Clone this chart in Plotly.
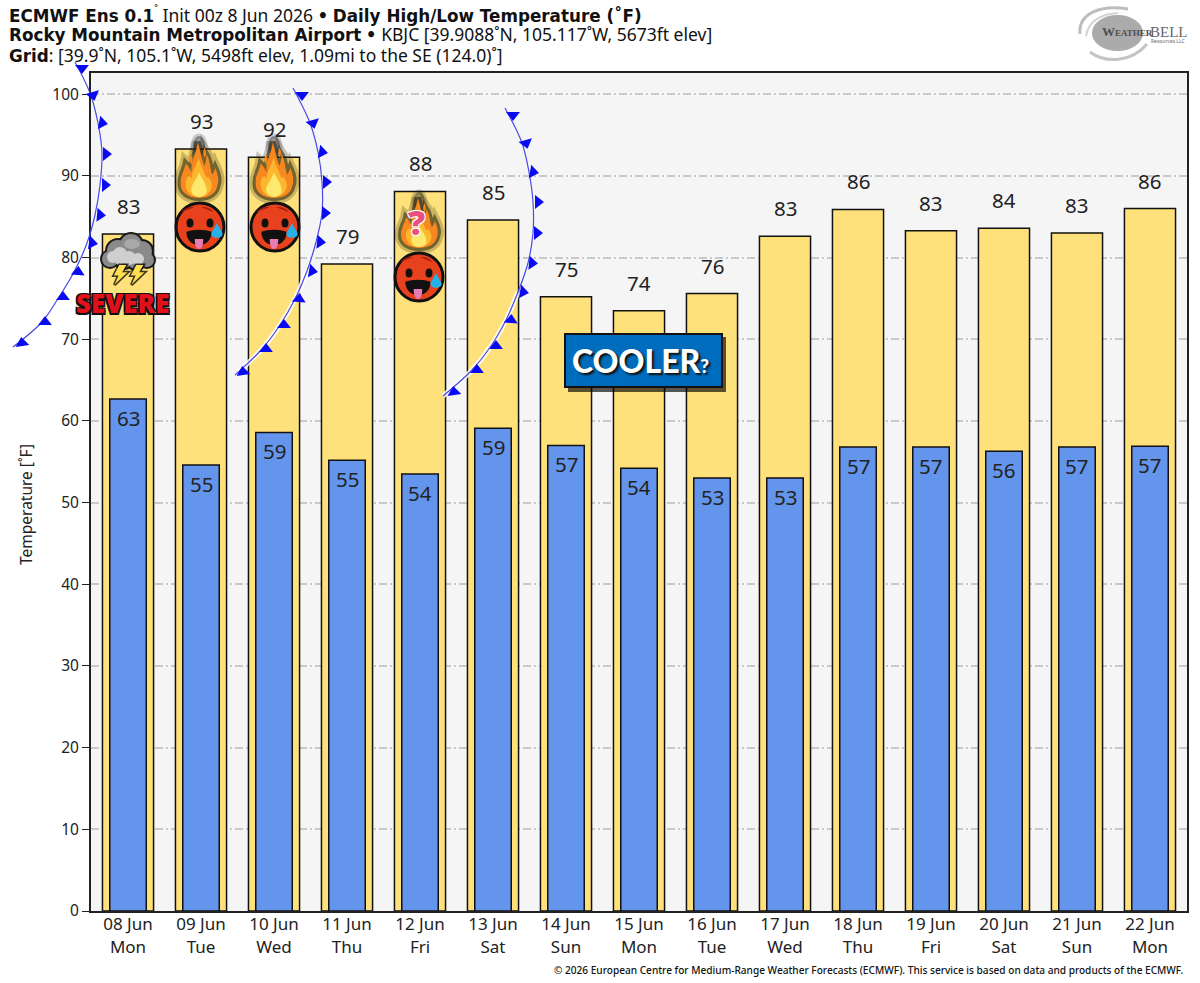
"""ECMWF ensemble daily high/low bars for KBJC, with the hand-drawn forecaster markup on top."""
import plotly.graph_objects as go

DAYS = ["08 Jun", "09 Jun", "10 Jun", "11 Jun", "12 Jun", "13 Jun", "14 Jun", "15 Jun",
        "16 Jun", "17 Jun", "18 Jun", "19 Jun", "20 Jun", "21 Jun", "22 Jun"]
WEEKDAYS = ["Mon", "Tue", "Wed", "Thu", "Fri", "Sat", "Sun", "Mon",
            "Tue", "Wed", "Thu", "Fri", "Sat", "Sun", "Mon"]
HIGHS = [82.9, 93.3, 92.3, 79.2, 88.1, 84.6, 75.2, 73.5, 75.6, 82.6, 85.9, 83.3, 83.6, 83.0, 86.0]
LOWS = [62.7, 54.6, 58.6, 55.2, 53.5, 59.1, 57.0, 54.2, 53.0, 53.0, 56.8, 56.8, 56.3, 56.8, 56.9]
Y_TICKS = [0, 10, 20, 30, 40, 50, 60, 70, 80, 90, 100]

# forecaster markup in page pixels (drawn on a hidden full-page subplot)
FRONT_1_LINE = [(75, 62), (90, 93), (98, 123), (102, 153), (100, 185), (95, 215), (87, 243),
                (74, 272), (59, 297), (42, 322), (13, 347)]
FRONT_1_TEETH = [(82, 68), (93, 95), (102, 123), (106, 154), (105, 185), (100, 215), (92, 243),
                 (78, 272), (63, 297), (45, 322), (22, 343)]
FRONT_2_LINE = [(293, 88), (310, 123), (318, 152), (322, 182), (322, 213), (316, 242), (307, 271),
                (295, 299), (280, 325), (262, 349), (235, 375)]
FRONT_2_TEETH = [(302, 95), (313, 123), (322, 152), (326, 182), (325, 213), (320, 242), (312, 271),
                 (299, 299), (284, 325), (266, 349), (243, 372)]
FRONT_3_LINE = [(505, 108), (522, 143), (529, 172), (533, 202), (533, 233), (528, 263), (518, 292),
                (506, 320), (491, 346), (472, 370), (443, 396)]
FRONT_3_TEETH = [(513, 115), (526, 143), (533, 172), (538, 202), (537, 233), (532, 263), (523, 292),
                 (511, 320), (496, 346), (477, 370), (454, 392)]
TEETH_ANGLES = [180, 165, 100, 90, 90, 95, 100, 5, 0, 0, -8]

FONT = "Noto Sans"
BOLD = "<span style='font-family:DejaVu Sans;font-weight:bold;font-size:16.8px'>{}</span>"
INK = "#222222"
YELLOW, BLUE, BG = "#ffe17b", "#6495ed", "#f5f5f5"
W, H = 1200, 983
L, R, T, B = 91, 1187, 73, 911
X_MIN, X_MAX, Y_MAX = -0.507, 14.507, 102.6


def px(x):
    return X_MIN + (x - L) / (R - L) * (X_MAX - X_MIN)


def py(y):
    return (B - y) / (B - T) * Y_MAX


def path(cmds, cx, cy, w, h):
    """cmds are (letter, [(u, v), ...]) with u across, v up, scaled to w/h around cx, cy (pixels)."""
    out = []
    for c, pts in cmds:
        xy = [f"{px(cx + u * w):.4f},{py(cy - v * h):.3f}" for u, v in pts]
        out.append(" ".join("L" + p for p in xy) if c == "L" else c + " ".join(xy))
    return " ".join(out) + " Z"


FLAME = [("M", [(0, 0)]),
         ("C", [(-.3, 0), (-.52, .1), (-.5, .28)]),
         ("C", [(-.5, .42), (-.4, .48), (-.36, .62)]),
         ("C", [(-.3, .58), (-.24, .52), (-.2, .46)]),
         ("C", [(-.24, .66), (-.1, .72), (-.03, 1.0)]),
         ("C", [(.03, .86), (.06, .74), (.14, .58)]),
         ("C", [(.18, .62), (.2, .7), (.2, .78)]),
         ("C", [(.32, .66), (.3, .5), (.36, .42)]),
         ("C", [(.4, .46), (.42, .5), (.44, .54)]),
         ("C", [(.54, .4), (.54, .28), (.5, .22)]),
         ("C", [(.46, .08), (.28, 0), (0, 0)])]
FLAME_MID = [("M", [(0, .02)]),
             ("C", [(-.26, .02), (-.38, .14), (-.36, .28)]),
             ("C", [(-.34, .4), (-.24, .42), (-.2, .34)]),
             ("C", [(-.2, .5), (-.06, .56), (-.02, .72)]),
             ("C", [(.04, .6), (.16, .44), (.2, .36)]),
             ("C", [(.26, .4), (.3, .34), (.32, .3)]),
             ("C", [(.4, .2), (.3, .02), (0, .02)])]
FLAME_CORE = [("M", [(0, .02)]),
              ("C", [(-.18, .02), (-.24, .12), (-.2, .2)]),
              ("C", [(-.14, .3), (-.04, .36), (0, .46)]),
              ("C", [(.06, .36), (.16, .3), (.2, .18)]),
              ("C", [(.24, .08), (.14, .02), (0, .02)])]
TIP_1 = [("M", [(-.22, .78)]), ("C", [(-.28, .7), (-.26, .64), (-.2, .6)]), ("C", [(-.16, .66), (-.16, .72), (-.22, .78)])]
TIP_2 = [("M", [(.15, .9)]), ("C", [(.1, .82), (.1, .76), (.16, .72)]), ("C", [(.2, .78), (.2, .84), (.15, .9)])]
DROP = [("M", [(0, 1)]), ("C", [(-.2, .6), (-.55, .4), (-.45, .2)]),
        ("C", [(-.35, -.05), (.35, -.05), (.45, .2)]), ("C", [(.55, .4), (.2, .6), (0, 1)])]
BOLT = [("M", [(.1, 1)]), ("L", [(.7, 1), (.35, .6), (.8, .6), (-.3, -.1), (.05, .42), (-.35, .42)])]


def shp(d, fill, line="rgba(0,0,0,0)", width=0):
    return dict(type="path", path=d, fillcolor=fill, line=dict(color=line, width=width),
                xref="x", yref="y", layer="above")


def disc(cx, cy, rx, ry, fill, line="rgba(0,0,0,0)", width=0):
    return dict(type="circle", x0=px(cx - rx), x1=px(cx + rx), y0=py(cy + ry), y1=py(cy - ry),
                fillcolor=fill, line=dict(color=line, width=width), xref="x", yref="y", layer="above")


def flame(cx, base, w, h, smoke=True):
    d = path(FLAME, cx, base, w, h)
    out = [shp(d, "rgba(50,45,15,.3)", "rgba(50,45,15,.25)", 12), shp(d, "rgba(40,35,10,.35)", "rgba(40,35,10,.55)", 6)]
    if smoke:
        out.append(disc(cx, base - h + 4, 6, 10, "rgba(30,30,30,.4)", "rgba(30,30,30,.2)", 5))
    out += [shp(d, "#f5881f"), shp(path(TIP_1, cx, base, w, h), "#f5881f"), shp(path(TIP_2, cx, base, w, h), "#f5881f")]
    out += [shp(path(FLAME_MID, cx, base, w, h), "#fdb62f"), shp(path(FLAME_CORE, cx, base, w, h), "#fde96e")]
    return out


def face(cx, cy):
    mouth = [("M", [(-.62, .12)]), ("C", [(-.3, .26), (.3, .26), (.62, .12)]),
             ("C", [(.62, -.8), (-.62, -.8), (-.62, .12)])]
    tongue = [("M", [(-.32, 0)]), ("L", [(.32, 0)]), ("C", [(.36, -.9), (-.36, -.9), (-.32, 0)])]
    brow_l = [("M", [(-.78, .62)]), ("C", [(-.6, .82), (-.4, .86), (-.24, .82)]),
              ("C", [(-.42, .74), (-.6, .68), (-.78, .62)])]
    brow_r = [("M", [(.58, .62)]), ("C", [(.42, .82), (.2, .86), (.06, .82)]),
              ("C", [(.22, .74), (.4, .68), (.58, .62)])]
    r = 24
    return [disc(cx, cy, r, r, "#e8411d", "#111111", 3),
            shp(path(brow_l, cx, cy, r, r), "#a8200f"), shp(path(brow_r, cx, cy, r, r), "#a8200f"),
            disc(cx - 10, cy - 4, 3.5, 4.5, "#111111"), disc(cx + 10, cy - 4, 3.5, 4.5, "#111111"),
            shp(path(mouth, cx - 1, cy + 7, r * .85, r * .8), "#111111"),
            shp(path(tongue, cx - 1, cy + 12, r * .55, r * .62), "#e77bb3"),
            shp(path(DROP, cx + 17, cy + 11, 12, 15), "#27b1e8")]


def cloud(cx, cy):
    lumps = [(-18, 6, 8), (-10, -2, 11), (3, -8, 11), (14, -2, 10), (19, 7, 7), (-4, 6, 9), (8, 7, 9)]
    out = []
    for dx, dy, r in lumps:
        out.append(disc(cx + dx, cy + dy, r + 2, r + 2, "#1a1a1a"))
    for dx, dy, r in lumps:
        out.append(disc(cx + dx, cy + dy, r, r, "#8a8a8a"))
    for dx, dy, r in [(-15, 4, 6), (-8, 1, 7), (1, 5, 7), (10, 6, 6), (-8, 7, 5)]:
        out.append(disc(cx + dx, cy + dy, r, r, "#cfcfcf"))
    out.append(disc(cx + 4, cy - 9, 8, 5, "#a8a8a8"))
    for bx in (-10, 7):
        d = path(BOLT, cx + bx, cy + 30, 12, 18)
        out += [shp(d, "#3a3410", "rgba(0,0,0,.75)", 3), shp(d, "#ffdf4f")]
    return out


def pgx(x):
    return x / W


def pgy(y):
    return 1 - y / H


def logo():
    swirls = [([(1080, 34), (1078, 14), (1100, 4), (1128, 9)], "#bdbdbd", 3),
              ([(1090, 52), (1106, 64), (1132, 62), (1147, 44)], "#c4c4c4", 3),
              ([(1086, 36), (1088, 22), (1100, 14), (1118, 13)], "#d4d4d4", 2)]
    out = [dict(type="circle", x0=pgx(1092), x1=pgx(1143), y0=pgy(51), y1=pgy(15), fillcolor="#ababab",
                line=dict(width=0), xref="paper", yref="paper", layer="above")]
    for pts, color, width in swirls:
        xy = [f"{pgx(a):.5f},{pgy(b):.5f}" for a, b in pts]
        d = f"M{xy[0]} C{xy[1]} {xy[2]} {xy[3]}"
        out.append(dict(type="path", path=d, line=dict(color=color, width=width),
                        xref="paper", yref="paper", layer="above"))
    return out


def page_note(x, y, text, size, color=INK, anchor="center", family=FONT, angle=0, **font_extra):
    return dict(x=pgx(x), y=pgy(y), xref="paper", yref="paper", text=text, showarrow=False, xanchor=anchor,
                yanchor="middle", textangle=angle, font=dict(family=family, size=size, color=color, **font_extra))


fig = go.Figure()
fig.add_bar(x=list(range(15)), y=HIGHS, width=0.7, marker=dict(color=YELLOW, line=dict(color="#111111", width=1.5)))
fig.add_bar(x=list(range(15)), y=LOWS, width=0.5, marker=dict(color=BLUE, line=dict(color="#111111", width=1.5)))

for line, teeth, glow in [(FRONT_1_LINE, FRONT_1_TEETH, False), (FRONT_2_LINE, FRONT_2_TEETH, True),
                          (FRONT_3_LINE, FRONT_3_TEETH, True)]:
    lx = [p[0] for p in line]
    ly = [p[1] for p in line]
    if glow:
        fig.add_scatter(x=lx[6:], y=ly[6:], mode="lines", xaxis="x2", yaxis="y2",
                        line=dict(color="rgba(255,255,255,.85)", width=5, shape="spline"))
    fig.add_scatter(x=lx, y=ly, mode="lines", xaxis="x2", yaxis="y2",
                    line=dict(color="#4a4ae8", width=1.2, shape="spline"))
    fig.add_scatter(x=[p[0] for p in teeth], y=[p[1] for p in teeth], mode="markers", xaxis="x2", yaxis="y2",
                    marker=dict(symbol="triangle-up", size=12, color="#0a0af0", angle=TEETH_ANGLES))

annotations = []
for i, (hi, lo) in enumerate(zip(HIGHS, LOWS)):
    annotations.append(dict(x=i, y=hi, text=str(round(hi)), showarrow=False, yshift=28,
                            font=dict(family=FONT, size=20.5, color=INK)))
    annotations.append(dict(x=i, y=lo, text=str(round(lo)), showarrow=False, yshift=-19,
                            font=dict(family=FONT, size=20.5, color=INK)))

annotations += [
    page_note(7, 14, BOLD.format("ECMWF Ens 0.1") + "<sup>˚</sup> Init 00z 8 Jun 2026 " + BOLD.format("•") + " "
              + BOLD.format("Daily High/Low Temperature (˚F)"), 17.5, "#111111", "left"),
    page_note(7, 34, BOLD.format("Rocky Mountain Metropolitan Airport") + " " + BOLD.format("•")
              + " KBJC [39.9088˚N, 105.117˚W, 5673ft elev]", 17.5, "#111111", "left"),
    page_note(7, 55, BOLD.format("Grid") + ": [39.9˚N, 105.1˚W, 5498ft elev, 1.09mi to the SE (124.0)˚]", 17.5, "#111111", "left"),
    page_note(1186, 970, "© 2026 European Centre for Medium-Range Weather Forecasts (ECMWF). This service is based on data and products of the ECMWF.",
              10.1, "#111111", "right", weight=500),
    page_note(26, 505, "Temperature [˚F]", 15.5, INK, angle=-90),
    page_note(122, 303, "SEVERE", 26, "#e2101a", weight=900,
              shadow="1.5px 1.5px 0 #111,-1.5px -1.5px 0 #111,1.5px -1.5px 0 #111,-1.5px 1.5px 0 #111"),
    page_note(417, 222, "?", 34, "#ea4f80", weight=900,
              shadow="1px 1px 0 #fff,-1px -1px 0 #fff,1px -1px 0 #fff,-1px 1px 0 #fff"),
    page_note(640, 360, "COOLER<span style='font-size:19px'>?</span>", 32, "#ffffff", family="Lato", weight=900,
              shadow="2px 2px 2px #111"),
    page_note(1100, 32, "W<span style='font-size:9px'>EATHER</span>", 13, "#4d4d4d", "left", family="Liberation Serif", weight=700),
    page_note(1148, 32, "BELL", 15, "#666666", "left", family="Liberation Serif"),
    page_note(1168, 41, "Resources LLC", 5, "#666666"),
]

shapes = [dict(type="rect", x0=X_MIN, x1=X_MAX, y0=0, y1=Y_MAX, fillcolor=BG, line=dict(width=0),
               xref="x", yref="y", layer="below")]
shapes += logo()
shapes += flame(199, 198, 37, 56) + flame(274, 198, 37, 56) + flame(419, 248, 36, 50)
shapes += face(200, 227) + face(275, 227) + face(419, 277)
shapes += cloud(128, 253)
shapes += [dict(type="rect", x0=px(568), x1=px(726), y0=py(392), y1=py(337), fillcolor="rgba(0,0,0,.65)",
                line=dict(width=0), xref="x", yref="y", layer="above"),
           dict(type="rect", x0=px(565), x1=px(722), y0=py(387), y1=py(334), fillcolor="#006cbd",
                line=dict(color="#111111", width=2), xref="x", yref="y", layer="above")]

fig.update_layout(
    width=W, height=H, margin=dict(l=0, r=0, t=0, b=0, autoexpand=False),
    barmode="overlay", showlegend=False, paper_bgcolor="white", plot_bgcolor="rgba(0,0,0,0)", hovermode=False,
    font=dict(family=FONT, size=15.5, color=INK), shapes=shapes, annotations=annotations,
    xaxis=dict(domain=[L / W, R / W], anchor="y", range=[X_MIN, X_MAX], tickmode="array", tickvals=list(range(15)),
               ticktext=[f"{d}<br>{w}" for d, w in zip(DAYS, WEEKDAYS)], showgrid=False, zeroline=False,
               showline=True, linecolor="#222222", linewidth=2, mirror=True, ticks="", tickangle=0,
               tickfont=dict(size=17), ticklabelstandoff=-3),
    yaxis=dict(domain=[1 - B / H, 1 - T / H], anchor="x", range=[0, Y_MAX], tickmode="array", tickvals=Y_TICKS,
               showgrid=True, gridcolor="#c9c9c9", gridwidth=1.5, griddash="8px,3px,2px,3px", zeroline=False,
               showline=True, linecolor="#222222", linewidth=2, mirror=True, ticks="outside", ticklen=7,
               tickcolor="#222222", tickfont=dict(size=15.5)),
    xaxis2=dict(domain=[0, 1], anchor="y2", range=[0, W], visible=False),
    yaxis2=dict(domain=[0, 1], anchor="x2", range=[H, 0], visible=False),
)

fig.write_html("out.html", post_script="document.body.style.margin='0';", config={"displayModeBar": False})
